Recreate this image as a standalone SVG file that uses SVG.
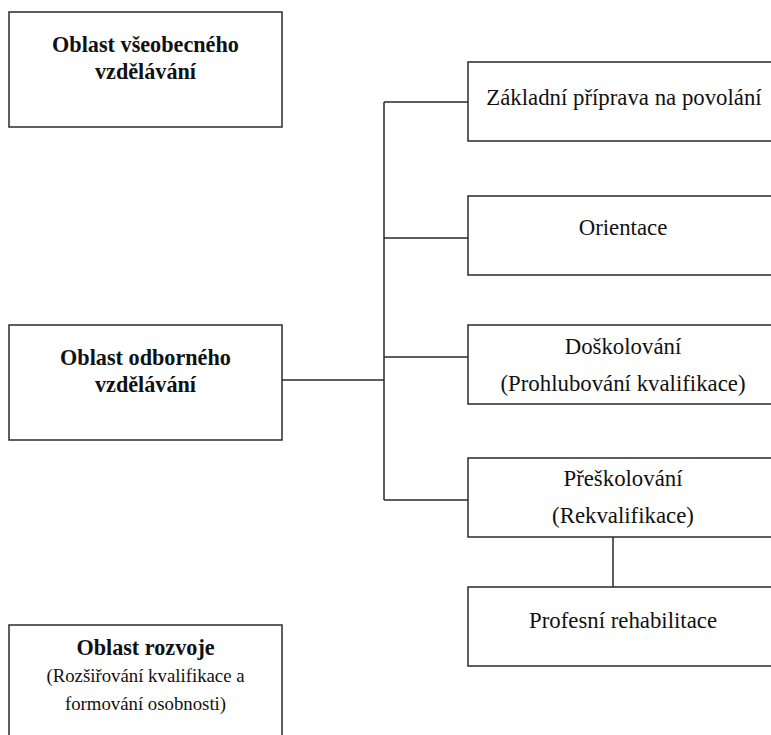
<svg xmlns="http://www.w3.org/2000/svg" width="771" height="735" viewBox="0 0 771 735">
<style>
.box{fill:#fff;stroke:#2a2a2a;stroke-width:1.5}
.t{font-family:"Liberation Serif","Times New Roman",serif;font-size:22.8px;fill:#111;text-anchor:middle}
.b{font-weight:bold;font-size:22.2px}
.s{font-size:18.8px}
.c{stroke:#2a2a2a;stroke-width:1.5;fill:none}
</style>
<rect width="771" height="735" fill="#fff"/>
<g id="connectors">
<path class="c" d="M384 102V500M384 102H468M384 238H468M384 357H468M384 500H468M282 380H384M613 537V587"/>
</g>
<g id="n-vseobecne">
<rect class="box" x="9" y="12" width="273" height="115"/>
<text class="t b" x="145.5" y="52">Oblast všeobecného</text>
<text class="t b" x="145.5" y="79">vzdělávání</text>
</g>
<g id="n-odborne">
<rect class="box" x="9" y="325" width="273" height="115"/>
<text class="t b" x="145.5" y="365">Oblast odborného</text>
<text class="t b" x="145.5" y="392">vzdělávání</text>
</g>
<g id="n-rozvoj">
<rect class="box" x="9" y="625" width="273" height="130"/>
<text class="t b" x="145.5" y="655">Oblast rozvoje</text>
<text class="t s" x="145.5" y="682">(Rozšiřování kvalifikace a</text>
<text class="t s" x="145.5" y="710">formování osobnosti)</text>
</g>
<g id="n-zakladni">
<rect class="box" x="468" y="62" width="320" height="79"/>
<text class="t" x="624" y="105">Základní příprava na povolání</text>
</g>
<g id="n-orientace">
<rect class="box" x="468" y="196" width="320" height="79"/>
<text class="t" x="623" y="235">Orientace</text>
</g>
<g id="n-doskolovani">
<rect class="box" x="468" y="325" width="320" height="79"/>
<text class="t" x="623" y="354">Doškolování</text>
<text class="t" x="623" y="391">(Prohlubování kvalifikace)</text>
</g>
<g id="n-preskolovani">
<rect class="box" x="468" y="458" width="320" height="79"/>
<text class="t" x="623" y="486">Přeškolování</text>
<text class="t" x="623" y="523">(Rekvalifikace)</text>
</g>
<g id="n-profesni">
<rect class="box" x="468" y="587" width="320" height="79"/>
<text class="t" x="623" y="628">Profesní rehabilitace</text>
</g>
</svg>
